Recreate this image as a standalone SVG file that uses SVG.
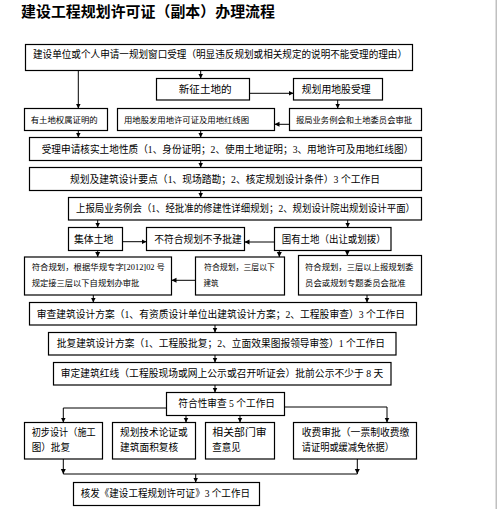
<svg xmlns="http://www.w3.org/2000/svg" width="497" height="509" viewBox="0 0 497 509">
<style>
.b{fill:#fff;stroke:#000;stroke-width:1.2}
.t{font-family:"Liberation Serif","Noto Sans CJK SC",serif;font-size:10px;fill:#000}
.s{font-family:"Liberation Serif","Noto Sans CJK SC",serif;font-size:8px;fill:#000}
.c{fill:none;stroke:#000;stroke-width:1}
.title{font-family:"Noto Sans CJK SC",sans-serif;font-size:14.5px;font-weight:bold;fill:#000}
</style>
<defs>
<marker id="ah" markerUnits="userSpaceOnUse" markerWidth="6" markerHeight="6" refX="5" refY="3" orient="auto">
<path d="M0,0.5 L5,3 L0,5.5 z" fill="#000"/>
</marker>
</defs>
<rect width="497" height="509" fill="#fff"/>
<rect x="495.5" y="0" width="1.5" height="509" fill="#c0c0c0"/>
<text class="title" x="21" y="16.9" textLength="254" lengthAdjust="spacingAndGlyphs">建设工程规划许可证（副本）办理流程</text>

<g id="n1"><rect class="b" x="25.5" y="44.5" width="387" height="26"/><text class="t" x="33" y="58" textLength="374" lengthAdjust="spacingAndGlyphs">建设单位或个人申请一规划窗口受理（明显违反规划或相关规定的说明不能受理的理由）</text></g>
<g id="n2"><rect class="b" x="156.5" y="78.5" width="93" height="21.5"/><text class="t" x="178.7" y="93" font-size="10.5" textLength="53" lengthAdjust="spacingAndGlyphs">新征土地的</text></g>
<g id="n3"><rect class="b" x="293.5" y="78.5" width="89" height="21.5"/><text class="t" x="301.7" y="93" textLength="69" lengthAdjust="spacingAndGlyphs">规划用地股受理</text></g>
<g id="n4"><rect class="b" x="24.5" y="108.5" width="83" height="22"/><text class="s" x="30.7" y="122.5" textLength="67" lengthAdjust="spacingAndGlyphs">有土地权属证明的</text></g>
<g id="n5"><rect class="b" x="117.5" y="108.5" width="157" height="22"/><text class="s" x="124" y="122.5" textLength="125" lengthAdjust="spacingAndGlyphs">用地股发用地许可证及用地红线图</text></g>
<g id="n6"><rect class="b" x="289.5" y="108.5" width="132" height="22"/><text class="s" x="296" y="122.5" textLength="116" lengthAdjust="spacingAndGlyphs">报局业务例会和土地委员会审批</text></g>
<g id="n7"><rect class="b" x="29.5" y="137.5" width="392" height="23"/><text class="t" x="41.7" y="152.5" textLength="371.6" lengthAdjust="spacingAndGlyphs">受理申请核实土地性质（1、身份证明；2、使用土地证明；3、用地许可及用地红线图）</text></g>
<g id="n8"><rect class="b" x="29.5" y="167.5" width="392" height="23"/><text class="t" x="70" y="182.5" textLength="310" lengthAdjust="spacingAndGlyphs">规划及建筑设计要点（1、现场踏勘；2、核定规划设计条件）3 个工作日</text></g>
<g id="n9"><rect class="b" x="68.5" y="197.5" width="353" height="22.5"/><text class="t" x="76" y="211.8" textLength="339" lengthAdjust="spacingAndGlyphs">上报局业务例会（1、经批准的修建性详细规划；2、规划设计院出规划设计平面）</text></g>
<g id="n10"><rect class="b" x="68.5" y="227.5" width="54" height="23"/><text class="t" x="74" y="242.5" textLength="39.3" lengthAdjust="spacingAndGlyphs">集体土地</text></g>
<g id="n11"><rect class="b" x="146.5" y="227.5" width="98" height="23"/><text class="t" x="154.3" y="242.5" textLength="87.4" lengthAdjust="spacingAndGlyphs">不符合规划不予批建</text></g>
<g id="n12"><rect class="b" x="274.5" y="227.5" width="116.5" height="23"/><text class="t" x="281.7" y="242.5" textLength="104" lengthAdjust="spacingAndGlyphs">国有土地（出让或划拨）</text></g>
<g id="n13"><rect class="b" x="24.5" y="257" width="147" height="38"/><text class="s" x="31.7" y="269.5" textLength="133.3" lengthAdjust="spacingAndGlyphs">符合规划，根据华规专字[2012]02 号</text><text class="s" x="31.7" y="286" textLength="107.6" lengthAdjust="spacingAndGlyphs">规定接三层以下自规划办审批</text></g>
<g id="n14"><rect class="b" x="195.5" y="257" width="89" height="38"/><text class="s" x="204" y="269.5" textLength="71" lengthAdjust="spacingAndGlyphs">符合规划，三层以下</text><text class="s" x="203.5" y="286" textLength="15" lengthAdjust="spacingAndGlyphs">建筑</text></g>
<g id="n15"><rect class="b" x="298.5" y="255.5" width="123" height="39.5"/><text class="s" x="305" y="269.5" textLength="108.3" lengthAdjust="spacingAndGlyphs">符合规划，三层以上报规划委</text><text class="s" x="305" y="286" textLength="100.7" lengthAdjust="spacingAndGlyphs">员会或规划专题委员会批准</text></g>
<g id="n16"><rect class="b" x="29.5" y="302.5" width="387" height="22.5"/><text class="t" x="36.7" y="317.5" textLength="368.3" lengthAdjust="spacingAndGlyphs">审查建筑设计方案（1、有资质设计单位出建筑设计方案；2、工程股审查）3 个工作日</text></g>
<g id="n17"><rect class="b" x="48.5" y="332.5" width="347.5" height="22.5"/><text class="t" x="56.7" y="347" textLength="328.3" lengthAdjust="spacingAndGlyphs">批复建筑设计方案（1、工程股批复；2、立面效果图报领导审签）1 个工作日</text></g>
<g id="n18"><rect class="b" x="53.5" y="362.5" width="337.5" height="22.5"/><text class="t" x="60.7" y="377" textLength="322.6" lengthAdjust="spacingAndGlyphs">审定建筑红线（工程股现场或网上公示或召开听证会）批前公示不少于 8 天</text></g>
<g id="n19"><rect class="b" x="166.5" y="392.5" width="118" height="23"/><text class="t" x="178.3" y="407" textLength="96.7" lengthAdjust="spacingAndGlyphs">符合性审查 5 个工作日</text></g>
<g id="n20"><rect class="b" x="24.5" y="422.5" width="78" height="36.5"/><text class="t" x="31.7" y="436" textLength="64" lengthAdjust="spacingAndGlyphs">初步设计（施工</text><text class="t" x="31.7" y="450.5" textLength="38.3" lengthAdjust="spacingAndGlyphs">图）批复</text></g>
<g id="n21"><rect class="b" x="112.5" y="422.5" width="83" height="36.5"/><text class="t" x="120" y="436" textLength="67.7" lengthAdjust="spacingAndGlyphs">规划技术论证或</text><text class="t" x="120" y="450.5" textLength="58.3" lengthAdjust="spacingAndGlyphs">建筑面积复核</text></g>
<g id="n22"><rect class="b" x="205.5" y="422.5" width="69" height="36.5"/><text class="t" x="212.3" y="436" textLength="54.4" lengthAdjust="spacingAndGlyphs">相关部门审</text><text class="t" x="212.3" y="450.5" textLength="28.4" lengthAdjust="spacingAndGlyphs">查意见</text></g>
<g id="n23"><rect class="b" x="293.5" y="422.5" width="123" height="36.5"/><text class="t" x="301.7" y="436" textLength="107.6" lengthAdjust="spacingAndGlyphs">收费审批（一票制收费缴</text><text class="t" x="301.7" y="450.5" textLength="92.3" lengthAdjust="spacingAndGlyphs">请证明或缓减免依据）</text></g>
<g id="n24"><rect class="b" x="73.5" y="482.5" width="186" height="23"/><text class="t" x="80.7" y="497" textLength="169.3" lengthAdjust="spacingAndGlyphs">核发《建设工程规划许可证》3 个工作日</text></g>

<g id="connectors">
<path class="c" marker-end="url(#ah)" d="M200.7,70.5 V78.5"/>
<path class="c" marker-end="url(#ah)" d="M78.3,70.5 V108.5"/>
<path class="c" marker-end="url(#ah)" d="M249.5,93.3 H293.5"/>
<path class="c" marker-end="url(#ah)" d="M337.7,100 V108.5"/>
<path class="c" marker-end="url(#ah)" d="M289.5,124.3 H274.5"/>
<path class="c" marker-end="url(#ah)" d="M78.3,130.5 V137.5"/>
<path class="c" marker-end="url(#ah)" d="M200.7,130.5 V137.5"/>
<path class="c" marker-end="url(#ah)" d="M200.7,160.5 V167.5"/>
<path class="c" marker-end="url(#ah)" d="M200.7,190.5 V197.5"/>
<path class="c" marker-end="url(#ah)" d="M97.7,220 V227.5"/>
<path class="c" marker-end="url(#ah)" d="M347.7,220 V227.5"/>
<path class="c" marker-end="url(#ah)" d="M122.5,241.7 H146.5"/>
<path class="c" marker-end="url(#ah)" d="M274.5,242 H244.5"/>
<path class="c" marker-end="url(#ah)" d="M97.7,250.5 V257"/>
<path class="c" marker-end="url(#ah)" d="M279.3,250.5 V257"/>
<path class="c" marker-end="url(#ah)" d="M347.3,250.5 V255.5"/>
<path class="c" marker-end="url(#ah)" d="M195.5,280.3 H171.5"/>
<path class="c" marker-end="url(#ah)" d="M93.3,295 V302.5"/>
<path class="c" marker-end="url(#ah)" d="M367,295 V302.5"/>
<path class="c" marker-end="url(#ah)" d="M215,325 V332.5"/>
<path class="c" marker-end="url(#ah)" d="M215,355 V362.5"/>
<path class="c" marker-end="url(#ah)" d="M215,385 V392.5"/>
<path class="c" marker-end="url(#ah)" d="M166.5,408 H63.3 V422.5"/>
<path class="c" marker-end="url(#ah)" d="M186,415.5 V422.5"/>
<path class="c" marker-end="url(#ah)" d="M240,415.5 V422.5"/>
<path class="c" marker-end="url(#ah)" d="M284.5,407 H387 V422.5"/>
<path class="c" marker-end="url(#ah)" d="M63.3,459 V474"/>
<path class="c" marker-end="url(#ah)" d="M357.3,459 V474"/>
<path class="c" d="M63.3,474 H357.3"/>
<path class="c" marker-end="url(#ah)" d="M195.7,474 V482.5"/>
</g>
</svg>
